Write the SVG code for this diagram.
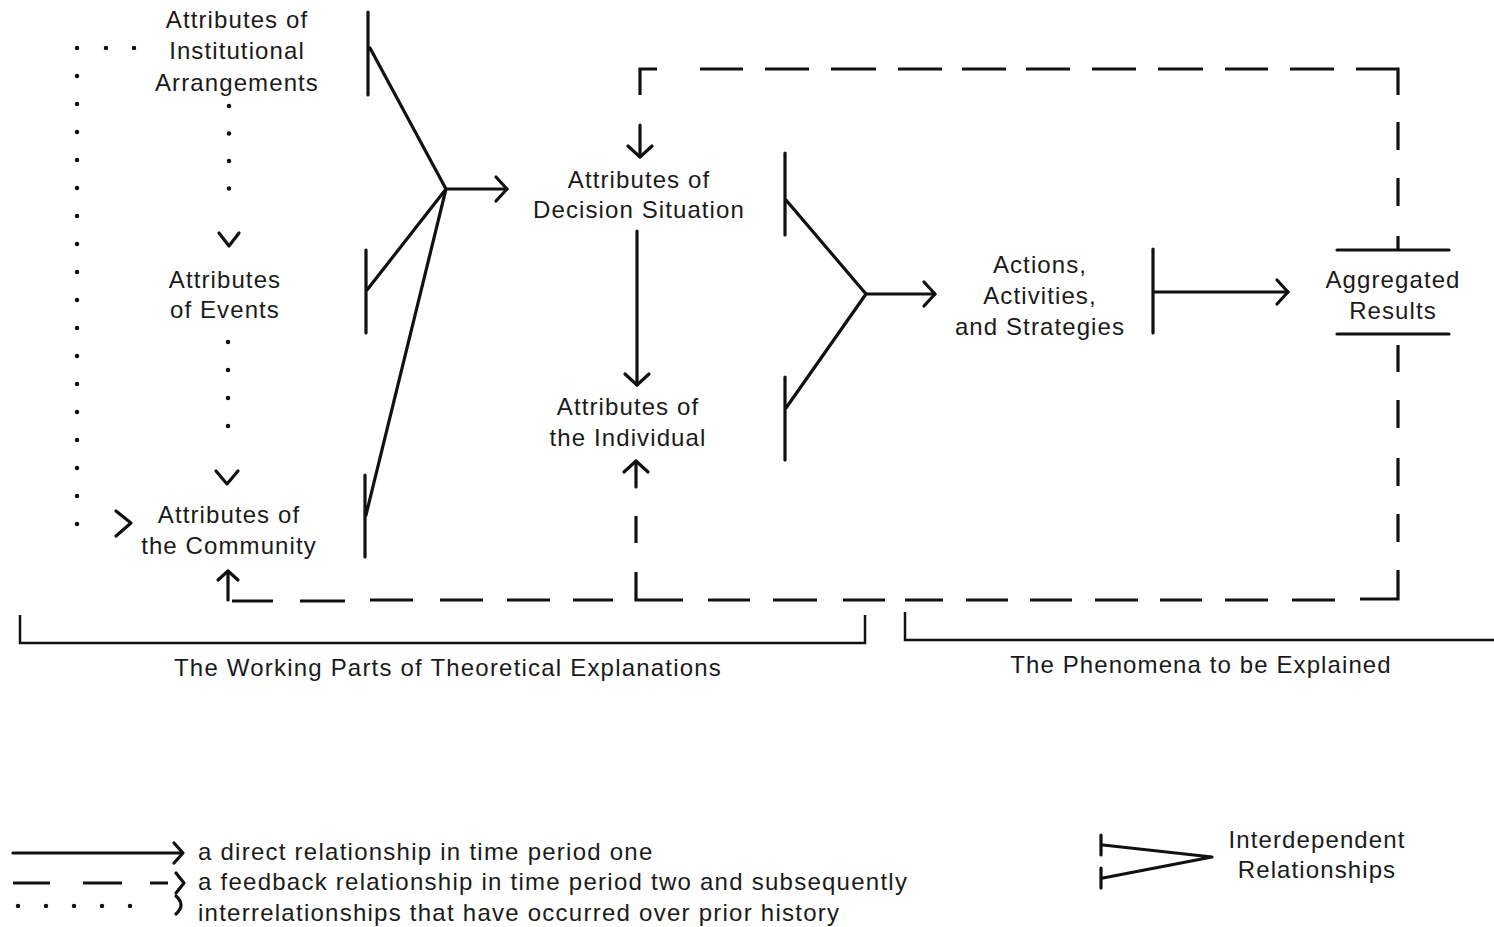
<svg xmlns="http://www.w3.org/2000/svg" width="1494" height="927" viewBox="0 0 1494 927">
  <style>
    text { font-family: "Liberation Sans", Arial, sans-serif; font-size: 24px; letter-spacing: 1.1px; fill: #1a1a1a; text-anchor: middle; }
    .legend text { text-anchor: start; letter-spacing: 1.25px; }
    .ln { fill: none; stroke: #111; stroke-width: 3.2; stroke-linecap: round; stroke-linejoin: round; }
    .dash { fill: none; stroke: #111; stroke-width: 3.2; stroke-linecap: butt; stroke-linejoin: miter; }
    .dot { fill: none; stroke: #111; stroke-width: 4.5; stroke-linecap: round; stroke-dasharray: 0 28; }
    .head { fill: none; stroke: #111; stroke-width: 3.2; stroke-linecap: round; stroke-linejoin: round; }
    .bracket { fill: none; stroke: #111; stroke-width: 2.5; }
  </style>
  <defs>
    <marker id="arrow" markerUnits="userSpaceOnUse" markerWidth="30" markerHeight="30" viewBox="-15 -15 30 30" refX="0" refY="0" orient="auto" overflow="visible">
      <path d="M-11,-12 L0,0 L-11,12" class="head"/>
    </marker>
    <marker id="arrow-sm" markerUnits="userSpaceOnUse" markerWidth="30" markerHeight="30" viewBox="-15 -15 30 30" refX="0" refY="0" orient="auto" overflow="visible">
      <path d="M-9,-10 L0,0 L-9,10" class="head"/>
    </marker>
  </defs>

  <!-- nodes -->
  <g id="node-institutional">
    <text x="237" y="28">Attributes of</text>
    <text x="237" y="59">Institutional</text>
    <text x="237" y="91">Arrangements</text>
  </g>
  <g id="node-events">
    <text x="225" y="288">Attributes</text>
    <text x="225" y="318">of Events</text>
  </g>
  <g id="node-community">
    <text x="229" y="523">Attributes of</text>
    <text x="229" y="554">the Community</text>
  </g>
  <g id="node-decision">
    <text x="639" y="188">Attributes of</text>
    <text x="639" y="218">Decision Situation</text>
  </g>
  <g id="node-individual">
    <text x="628" y="415">Attributes of</text>
    <text x="628" y="446">the Individual</text>
  </g>
  <g id="node-actions">
    <text x="1040" y="273">Actions,</text>
    <text x="1040" y="304">Activities,</text>
    <text x="1040" y="335">and Strategies</text>
  </g>
  <g id="node-aggregated">
    <path class="ln" d="M1337 250 H1449 M1337 334 H1449"/>
    <text x="1393" y="288">Aggregated</text>
    <text x="1393" y="319">Results</text>
  </g>

  <!-- connectors -->
  <g id="connectors">
    <!-- interdependent inputs to the decision situation -->
    <path class="ln" d="M368 12 V95 M370 48 L446 189"/>
    <path class="ln" d="M366 250 V333 M367 290 L446 189"/>
    <path class="ln" d="M365 475 V557 M366 515 L446 189"/>
    <path class="ln" d="M446 189 H507" marker-end="url(#arrow)"/>

    <!-- decision situation to individual -->
    <path class="ln" d="M637 231 V385" marker-end="url(#arrow)"/>

    <!-- interdependent inputs to actions -->
    <path class="ln" d="M785 153 V235 M786 200 L866 294"/>
    <path class="ln" d="M785 377 V460 M786 408 L866 294"/>
    <path class="ln" d="M866 294 H935" marker-end="url(#arrow)"/>

    <!-- actions to aggregated results -->
    <path class="ln" d="M1153 249 V333 M1153 292 H1288" marker-end="url(#arrow)"/>

    <!-- feedback: top loop back to the decision situation -->
    <path class="dash" d="M640 95 V69 H657 M700 69 H743 M765 69 H809 M831 69 H876 M898 69 H942 M962 69 H1006 M1026 69 H1070 M1092 69 H1136 M1158 69 H1203 M1225 69 H1268 M1290 69 H1334 M1356 69 H1398 V95 M1398 122 V150 M1398 178 V206 M1398 236 V250"/>
    <path class="ln" d="M640 125 V157" marker-end="url(#arrow)"/>

    <!-- feedback: bottom loop back to individual and community -->
    <path class="dash" d="M1398 345 V372 M1398 400 V428 M1398 458 V486 M1398 514 V542 M1398 570 V599 H1360 M1335 600 H1292 M1268 600 H1225 M1202 600 H1160 M1138 600 H1095 M1072 600 H1030 M1008 600 H966 M943 600 H905 M885 600 H843 M817 600 H773 M750 600 H708 M683 600 H636 V572 M613 600 H573 M550 600 H507 M483 600 H440 M413 600 H370 M345 601 H300 M273 601 H232 M636 543 V516"/>
    <path class="ln" d="M636 487 V461" marker-end="url(#arrow)"/>
    <path class="ln" d="M228 600 V571" marker-end="url(#arrow-sm)"/>

    <!-- prior history (dotted) -->
    <path class="dot" d="M134 48 H78"/>
    <path class="dot" d="M77 48 V524"/>
    <path class="dot" d="M77 524 H105"/>
    <path class="head" d="M116 511 L131 523 L116 536"/>
    <path class="dot" d="M229 106 V216" style="stroke-dasharray:0 27.5"/>
    <path class="head" d="M219 233 L229 246 L239 233"/>
    <path class="dot" d="M228 342 V454"/>
    <path class="head" d="M216 471 L227 484 L238 471"/>
  </g>

  <!-- section brackets -->
  <g id="brackets">
    <path class="bracket" d="M20 615 V643 H865 V615"/>
    <path class="bracket" d="M905 612 V640 H1494"/>
    <text x="448" y="676" style="letter-spacing:1.2px">The Working Parts of Theoretical Explanations</text>
    <text x="1201" y="673">The Phenomena to be Explained</text>
  </g>

  <!-- key -->
  <g id="legend" class="legend">
    <path class="ln" d="M13 853 H182"/>
    <path class="head" d="M174 843 L183 853 L174 863"/>
    <path class="dash" d="M13 883 H50 M83 883 H122 M150 883 H168"/>
    <path class="head" d="M176 873 L184 883 L176 893"/>
    <path class="dot" d="M18 906 H158"/>
    <path class="head" d="M176 896 Q186 905 176 914"/>
    <text x="198" y="860">a direct relationship in time period one</text>
    <text x="198" y="890">a feedback relationship in time period two and subsequently</text>
    <text x="198" y="921">interrelationships that have occurred over prior history</text>

    <path class="ln" d="M1101 835 V855 M1101 868 V888 M1103 845 L1212 857 L1103 878"/>
    <text x="1317" y="848" style="text-anchor:middle;letter-spacing:1.1px">Interdependent</text>
    <text x="1317" y="878" style="text-anchor:middle;letter-spacing:1.1px">Relationships</text>
  </g>
</svg>
